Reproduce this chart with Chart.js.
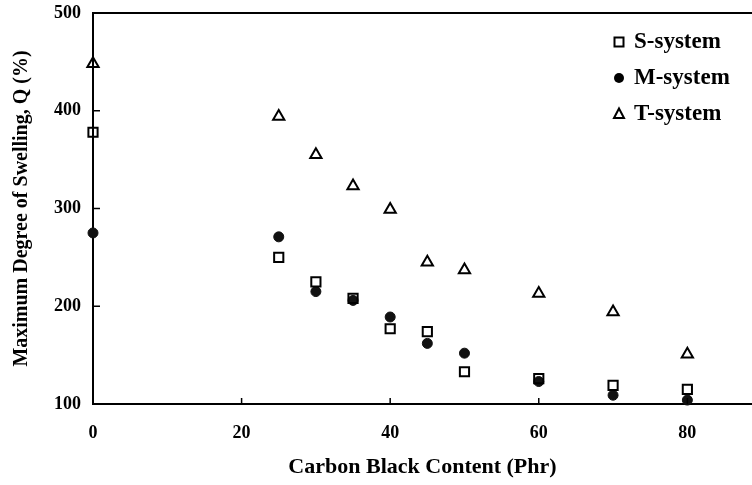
<!DOCTYPE html>
<html>
<head>
<meta charset="utf-8">
<script src="https://cdn.jsdelivr.net/npm/chart.js@4/dist/chart.umd.min.js"></script>
<style>
html,body{margin:0;padding:0;background:#fff;}
#wrap{width:752px;height:485px;}
</style>
</head>
<body>
<div id="wrap"><canvas id="c" width="752" height="485"></canvas></div>
<script>
const carbonBlack = [0, 25, 30, 35, 40, 45, 50, 60, 70, 80];
const sSystem = [378, 250, 225, 208, 177, 174, 133, 126, 119, 115];
const mSystem = [275, 271, 215, 206, 189, 162, 152, 123, 109, 104];
const tSystem = [448, 394, 355, 323, 299, 245, 237, 213, 194, 151];
const xTickValues = [0, 20, 40, 60, 80];
const yTickValues = [100, 200, 300, 400, 500];
const seriesLabels = ['S-system', 'M-system', 'T-system'];
const xTitle = 'Carbon Black Content (Phr)';
const yTitle = 'Maximum Degree of Swelling, Q (%)';

function pts(ys){ return carbonBlack.map((x,i)=>({x:x, y:ys[i]})); }

const SERIF = '"Liberation Serif", "DejaVu Serif", serif';

const frame = {
  id: 'frame',
  afterDraw(chart) {
    const ctx = chart.ctx;
    const a = chart.chartArea;
    const xs = chart.scales.x, ys = chart.scales.y;
    ctx.save();
    ctx.strokeStyle = '#000';
    ctx.lineWidth = 2;
    ctx.beginPath();
    ctx.moveTo(a.left, a.top);
    ctx.lineTo(a.right, a.top);
    ctx.stroke();
    ctx.lineWidth = 1.5;
    yTickValues.forEach(v => {
      const py = ys.getPixelForValue(v);
      ctx.beginPath(); ctx.moveTo(a.left, py); ctx.lineTo(a.left + 7, py); ctx.stroke();
    });
    xTickValues.forEach(v => {
      const px = xs.getPixelForValue(v);
      ctx.beginPath(); ctx.moveTo(px, a.bottom); ctx.lineTo(px, a.bottom - 6); ctx.stroke();
    });
    const lx = 619, ly = [42, 78, 114];
    ctx.lineWidth = 2;
    ctx.strokeRect(lx - 4.5, ly[0] - 4.5, 9, 9);
    ctx.beginPath(); ctx.arc(lx, ly[1], 5, 0, Math.PI*2); ctx.fillStyle = '#000'; ctx.fill();
    ctx.beginPath();
    ctx.moveTo(lx, ly[2] - 5.5); ctx.lineTo(lx + 5, ly[2] + 4); ctx.lineTo(lx - 5, ly[2] + 4); ctx.closePath(); ctx.stroke();
    ctx.fillStyle = '#000';
    ctx.font = 'bold 23px ' + SERIF;
    ctx.textBaseline = 'middle';
    ctx.textAlign = 'left';
    seriesLabels.forEach((t,i) => ctx.fillText(t, 634, ly[i]));
    ctx.restore();
  }
};

new Chart(document.getElementById('c'), {
  type: 'scatter',
  data: {
    datasets: [
      { label: seriesLabels[0], data: pts(sSystem), clip: false, pointStyle: 'rect', pointRadius: 6.5, pointBorderWidth: 2, borderColor: '#000', backgroundColor: 'rgba(0,0,0,0)' },
      { label: seriesLabels[1], data: pts(mSystem), clip: false, pointStyle: 'circle', pointRadius: 5, pointBorderWidth: 1, borderColor: '#111', backgroundColor: '#111' },
      { label: seriesLabels[2], data: pts(tSystem), clip: false, pointStyle: 'triangle', pointRadius: 6.5, pointBorderWidth: 2, borderColor: '#000', backgroundColor: 'rgba(0,0,0,0)' }
    ]
  },
  options: {
    responsive: false,
    animation: false,
    events: [],
    layout: { autoPadding: false, padding: { top: 13, right: 0, left: 0, bottom: 0 } },
    plugins: { legend: { display: false }, tooltip: { enabled: false } },
    scales: {
      x: {
        type: 'linear', min: 0, max: 88.7,
        afterFit(s){ s.height = 81; s.paddingRight = 0; s.paddingLeft = 0; },
        grid: { display: false, drawTicks: false },
        border: { display: true, color: '#000', width: 2 },
        ticks: { stepSize: 20, includeBounds: false, autoSkip: false, padding: 19, color: '#000', font: { family: SERIF, size: 18, weight: 'bold' } },
        title: { display: true, text: xTitle, color: '#000', padding: { top: 0, bottom: 4 }, font: { family: SERIF, size: 22, weight: 'bold' } }
      },
      y: {
        type: 'linear', min: 100, max: 500,
        afterFit(s){ s.width = 93; s.paddingTop = 0; s.paddingBottom = 0; },
        grid: { display: false, drawTicks: false },
        border: { display: true, color: '#000', width: 2 },
        ticks: { stepSize: 100, padding: 12, color: '#000', font: { family: SERIF, size: 18, weight: 'bold' } },
        title: { display: true, text: yTitle, color: '#000', padding: { top: 10, bottom: 0 }, font: { family: SERIF, size: 20, weight: 'bold' } }
      }
    }
  },
  plugins: [frame]
});
</script>
</body>
</html>
